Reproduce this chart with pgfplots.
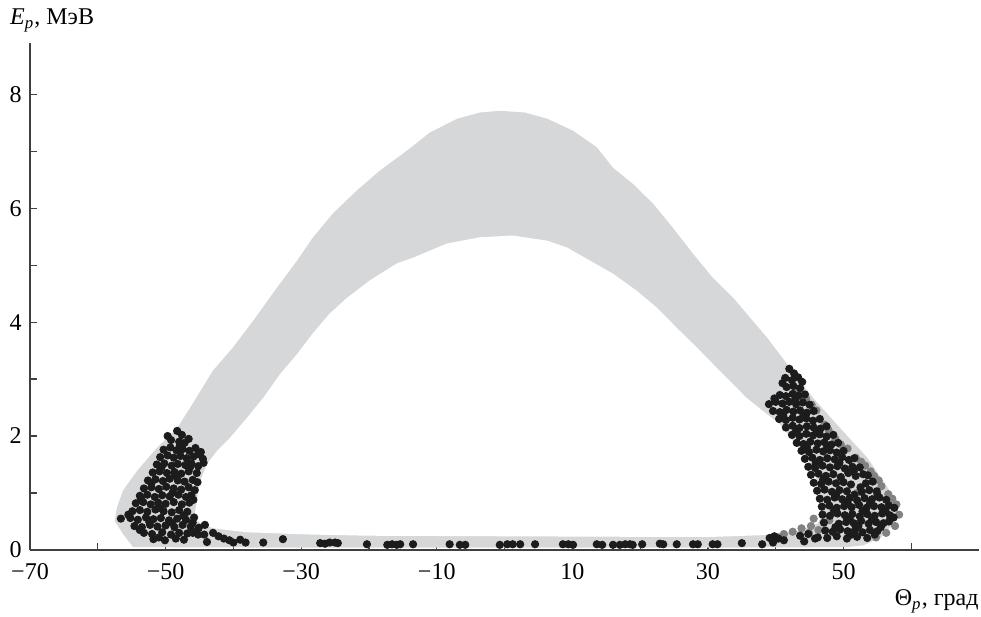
\documentclass[border=0pt]{standalone}
\usepackage{pgfplots}
\pgfplotsset{compat=1.18}
\usepackage{fontspec}
\setmainfont{Liberation Serif}
\definecolor{band}{RGB}{214,215,217}
\definecolor{dotc}{RGB}{28,28,28}
\definecolor{midc}{RGB}{130,130,130}
\begin{document}
\begin{tikzpicture}
\begin{axis}[
  scale only axis, width=395pt, height=211pt,
  xmin=-70, xmax=70, ymin=0, ymax=8.9,
  axis x line*=bottom, axis y line*=left,
  axis line style={black!75, line width=0.7pt},
  tick align=inside, major tick length=3pt,
  tick style={black!75, line width=0.5pt},
  xtick={-70,-60,...,60},
  xticklabels={−70,,−50,,−30,,−10,,10,,30,,50,},
  xticklabel style={yshift=-2pt},
  ytick={0,1,...,8},
  yticklabels={0,,2,,4,,6,,8},
  clip=false,
]
% light grey band (outer outline)
\addplot[fill=band, draw=none] coordinates {
(-54.8,0.05) (-56.4,0.30) (-57.5,0.51) (-57.2,0.74) (-56.3,1.04) (-54.2,1.39)
(-51.3,1.79) (-48.3,2.14) (-46.0,2.57) (-43.0,3.15) (-40.1,3.55) (-37.1,4.02)
(-33.6,4.60) (-30.6,5.08) (-28.3,5.48) (-25.3,5.91) (-21.8,6.31) (-18.4,6.66)
(-14.4,7.01) (-11.0,7.33) (-7.0,7.57) (-3.6,7.68) (-0.7,7.71) (3.0,7.68)
(6.3,7.57) (10.1,7.36) (13.6,7.07) (16.0,6.71) (18.9,6.43) (21.9,6.08)
(24.8,5.66) (27.8,5.20) (30.7,4.78) (33.7,4.43) (36.2,4.08) (38.7,3.73)
(42.1,3.20) (45.5,2.67) (49.5,2.14) (53.5,1.62) (56.8,1.04) (58.0,0.74)
(57.9,0.56) (56.8,0.39) (55.4,0.21) (52.9,0.08) (50.5,0.05) (28.8,0.04)
(-30.2,0.04)
} -- cycle;
% empty interior of the band
\addplot[fill=white, draw=none] coordinates {
(-45.4,0.51) (-45.7,0.63) (-45.4,0.86) (-44.9,1.21) (-43.9,1.51) (-42.4,1.74)
(-40.5,1.97) (-38.0,2.32) (-35.6,2.67) (-33.1,3.09) (-30.6,3.44) (-28.3,3.80)
(-25.8,4.15) (-23.2,4.43) (-19.9,4.73) (-15.9,5.03) (-13.5,5.13) (-8.5,5.38)
(-3.6,5.49) (1.2,5.52) (6.3,5.43) (9.2,5.31) (12.6,5.08) (16.0,4.85)
(19.5,4.55) (22.5,4.25) (25.4,3.90) (28.4,3.55) (30.7,3.27) (33.2,2.97)
(35.7,2.67) (38.1,2.44) (40.6,2.21) (42.5,1.92) (44.6,1.62) (46.1,1.21)
(46.8,0.86) (47.0,0.63) (46.1,0.46) (43.1,0.33) (38.1,0.26) (30.7,0.23)
(21.0,0.23) (0.0,0.24) (-20.0,0.25) (-28.3,0.27) (-38.0,0.31) (-43.0,0.38)
} -- cycle;
% medium grey points
\addplot[only marks, mark=*, mark size=1.5pt, color=midc] coordinates {
(44.5,2.65) (46.0,2.45) (47.2,2.20) (48.8,1.95) (50.6,1.78) (51.8,1.62)
(53.2,1.48) (54.5,1.30) (55.6,1.12) (56.6,0.98) (57.8,0.80) (58.2,0.62)
(57.6,0.42) (56.3,0.30) (54.8,0.22) (42.5,0.32) (43.8,0.38) (45.2,0.42)
(41.2,0.28) (45.6,0.55) (44.9,0.30) (47.9,0.52) (49.6,1.25) (52.0,1.00)
(45.3,2.55) (47.8,2.10) (49.6,1.85) (52.6,1.55) (54.0,1.38) (55.2,1.22)
(57.2,0.90) (46.3,0.35) (43.2,2.80) (40.4,0.22)
};
% black points
\addplot[only marks, mark=*, mark size=1.5pt, color=dotc] coordinates {
(-48.3,2.09) (-47.6,2.02)
(-49.2,1.93) (-48.0,1.90) (-47.2,1.88) (-46.6,1.95)
(-50.3,1.76) (-49.3,1.80) (-48.4,1.75) (-47.5,1.77) (-46.5,1.74) (-45.6,1.79) (-44.8,1.72)
(-50.8,1.63) (-49.7,1.66) (-48.8,1.62) (-47.8,1.65) (-46.9,1.61) (-45.9,1.64) (-44.5,1.60)
(-51.3,1.50) (-50.2,1.52) (-49.1,1.48) (-48.2,1.51) (-47.1,1.49) (-46.2,1.52) (-45.2,1.47) (-44.4,1.53)
(-51.9,1.36) (-50.9,1.38) (-49.8,1.35) (-48.7,1.37) (-47.7,1.34) (-46.6,1.38) (-45.4,1.35)
(-52.6,1.22) (-51.5,1.24) (-50.4,1.21) (-49.4,1.25) (-48.2,1.22) (-47.2,1.20) (-46.0,1.23) (-45.3,1.19)
(-53.2,1.08) (-52.1,1.10) (-51.0,1.07) (-49.9,1.11) (-48.8,1.08) (-47.7,1.06) (-46.6,1.10) (-45.7,1.05)
(-53.8,0.95) (-52.7,0.97) (-51.6,0.93) (-50.5,0.96) (-49.4,0.94) (-48.1,0.97) (-47.0,0.93) (-46.2,0.96)
(-54.4,0.82) (-53.3,0.84) (-52.2,0.80) (-51.1,0.83) (-50.0,0.81) (-48.8,0.84) (-47.6,0.80) (-46.5,0.83)
(-54.9,0.68) (-53.8,0.70) (-52.7,0.67) (-51.5,0.71) (-50.3,0.68) (-49.1,0.66) (-48.0,0.70) (-46.8,0.67)
(-56.6,0.55) (-55.2,0.56) (-54.1,0.53) (-52.9,0.57) (-51.8,0.54) (-50.7,0.56) (-49.5,0.52) (-48.3,0.55) (-47.0,0.53) (-45.8,0.57)
(-54.6,0.42) (-53.5,0.40) (-52.3,0.44) (-51.2,0.41) (-50.0,0.43) (-48.7,0.40) (-47.5,0.44) (-46.3,0.41) (-45.1,0.39) (-44.2,0.44)
(-53.2,0.30) (-52.0,0.28) (-50.5,0.31) (-49.2,0.27) (-48.0,0.30) (-46.8,0.29) (-45.5,0.32) (-44.3,0.27)
(-51.8,0.19) (-50.1,0.17) (-48.5,0.20) (-47.3,0.18)
(-49.7,2.00) (-47.9,1.83) (-45.2,1.68) (-50.6,1.45) (-48.6,1.30) (-46.4,1.45)
(-52.1,1.17) (-49.0,1.00) (-45.9,0.88) (-53.6,0.89) (-50.9,0.74) (-47.4,0.60)
(-55.5,0.62) (-52.4,0.49) (-49.0,0.47) (-46.0,0.48) (-51.0,0.22) (-53.8,0.35)
(-46.0,0.30) (-45.2,0.27) (-43.9,0.14) (-43.0,0.30) (-42.2,0.24) (-41.4,0.20) (-40.6,0.17)
(-40.0,0.13) (-39.0,0.18) (-38.2,0.13) (-35.6,0.13) (-32.7,0.19)
(-27.2,0.12) (-26.5,0.11) (-25.8,0.13) (-25.0,0.13) (-24.6,0.12) (-20.3,0.10)
(-17.3,0.09) (-16.6,0.10) (-15.9,0.09) (-15.4,0.10) (-13.5,0.10) (-8.1,0.10)
(-6.6,0.09) (-5.8,0.09) (-0.7,0.09) (0.4,0.10) (1.2,0.10) (2.3,0.10) (4.5,0.10)
(8.6,0.10) (9.4,0.10) (10.1,0.09) (13.6,0.10) (14.4,0.09) (16.0,0.09) (17.0,0.09)
(17.8,0.10) (18.5,0.10) (18.9,0.09) (20.3,0.10) (22.9,0.11) (23.4,0.10) (25.4,0.10)
(27.8,0.10) (28.5,0.10) (30.7,0.10) (31.4,0.10) (35.0,0.12) (38.0,0.10) (39.1,0.21)
(39.8,0.24) (40.4,0.20) (39.6,0.13) (41.2,0.17) (43.6,0.25) (44.2,0.15) (44.8,0.28) (45.8,0.20)
(42.0,3.18) (42.7,3.10)
(41.4,3.02) (42.4,2.98) (43.3,3.03)
(41.6,2.86) (42.6,2.88) (43.6,2.84)
(40.6,2.72) (41.5,2.70) (42.5,2.74) (43.4,2.71) (44.3,2.73)
(39.0,2.56) (40.0,2.60) (41.0,2.57) (42.0,2.60) (43.0,2.56) (44.0,2.59) (45.0,2.55)
(39.6,2.44) (40.6,2.42) (41.6,2.46) (42.6,2.43) (43.6,2.45) (44.6,2.41) (45.6,2.44)
(40.5,2.30) (41.5,2.28) (42.5,2.32) (43.5,2.29) (44.5,2.31) (45.5,2.27) (46.5,2.30)
(41.5,2.15) (42.5,2.18) (43.5,2.14) (44.6,2.17) (45.6,2.15) (46.6,2.13) (47.5,2.17)
(42.4,2.02) (43.5,2.00) (44.5,2.04) (45.5,2.01) (46.5,2.03) (47.5,1.99) (48.5,2.02)
(43.1,1.88) (44.1,1.86) (45.1,1.90) (46.2,1.87) (47.2,1.89) (48.2,1.85) (49.2,1.88)
(43.8,1.74) (44.9,1.72) (46.0,1.76) (47.0,1.73) (48.0,1.75) (49.0,1.71) (50.0,1.74)
(44.3,1.60) (45.4,1.62) (46.5,1.58) (47.6,1.61) (48.7,1.59) (49.8,1.63) (50.8,1.58) (51.6,1.61)
(44.8,1.46) (45.8,1.44) (46.9,1.48) (48.0,1.45) (49.1,1.47) (50.2,1.43) (51.3,1.46) (52.4,1.45)
(45.2,1.32) (46.3,1.34) (47.4,1.30) (48.5,1.33) (50.7,1.35) (51.8,1.30) (52.9,1.33) (53.6,1.31)
(45.6,1.18) (46.7,1.16) (47.8,1.20) (48.9,1.17) (50.0,1.19) (51.1,1.15) (53.3,1.17) (54.3,1.20)
(46.1,1.04) (47.2,1.06) (48.3,1.02) (49.4,1.05) (50.5,1.03) (52.7,1.02) (53.8,1.05) (54.9,1.03)
(46.5,0.90) (47.6,0.88) (48.7,0.92) (49.8,0.89) (50.9,0.91) (52.0,0.87) (53.1,0.91) (54.2,0.89) (55.3,0.92) (56.3,0.88)
(46.8,0.76) (47.9,0.78) (49.0,0.74) (50.1,0.77) (51.2,0.75) (52.3,0.79) (53.4,0.74) (54.5,0.77) (55.6,0.75) (56.7,0.78) (57.5,0.74)
(46.9,0.62) (48.0,0.60) (49.1,0.64) (50.2,0.61) (51.3,0.63) (52.4,0.59) (53.5,0.63) (54.6,0.60) (55.7,0.64) (56.8,0.61)
(47.1,0.48) (49.3,0.46) (50.4,0.49) (51.5,0.47) (52.6,0.51) (53.7,0.46) (54.8,0.49) (55.9,0.47) (56.7,0.50)
(47.3,0.34) (48.4,0.32) (49.5,0.36) (50.6,0.33) (51.7,0.35) (52.8,0.31) (53.9,0.35) (55.0,0.33)
(46.2,0.22) (47.6,0.21) (49.0,0.24) (50.5,0.20) (52.0,0.23) (53.5,0.21)
(41.0,2.93) (43.9,2.95) (39.8,2.66) (42.9,2.65) (41.1,2.36) (44.1,2.37)
(43.0,2.08) (46.1,2.08) (44.6,1.80) (47.6,1.81) (45.9,1.52) (49.4,1.53)
(47.0,1.24) (51.5,1.38) (49.6,1.28) (52.5,1.10) (48.9,0.97) (51.6,0.97)
(55.0,0.97) (50.6,0.83) (53.9,0.82) (48.6,0.69) (52.8,0.68) (56.2,0.68)
(50.9,0.55) (54.2,0.54) (57.4,0.57) (48.8,0.40) (52.2,0.42) (55.5,0.40)
(51.2,0.27) (54.6,0.27)
};
\node[anchor=base west, inner sep=0pt, xshift=-8.5pt, yshift=7.5pt] at (rel axis cs:0,1)
  {\textit{E}\textsubscript{\textit{p}}, МэВ};
\node[anchor=base east, inner sep=0pt, yshift=-23.3pt] at (rel axis cs:1,0)
  {Θ\textsubscript{\textit{p}}, град};
\path (rel axis cs:0,0) ++(-12.5pt,-27.9pt);
\path (rel axis cs:1,1) ++(0.8pt,17.9pt);
\end{axis}
\end{tikzpicture}
\end{document}
